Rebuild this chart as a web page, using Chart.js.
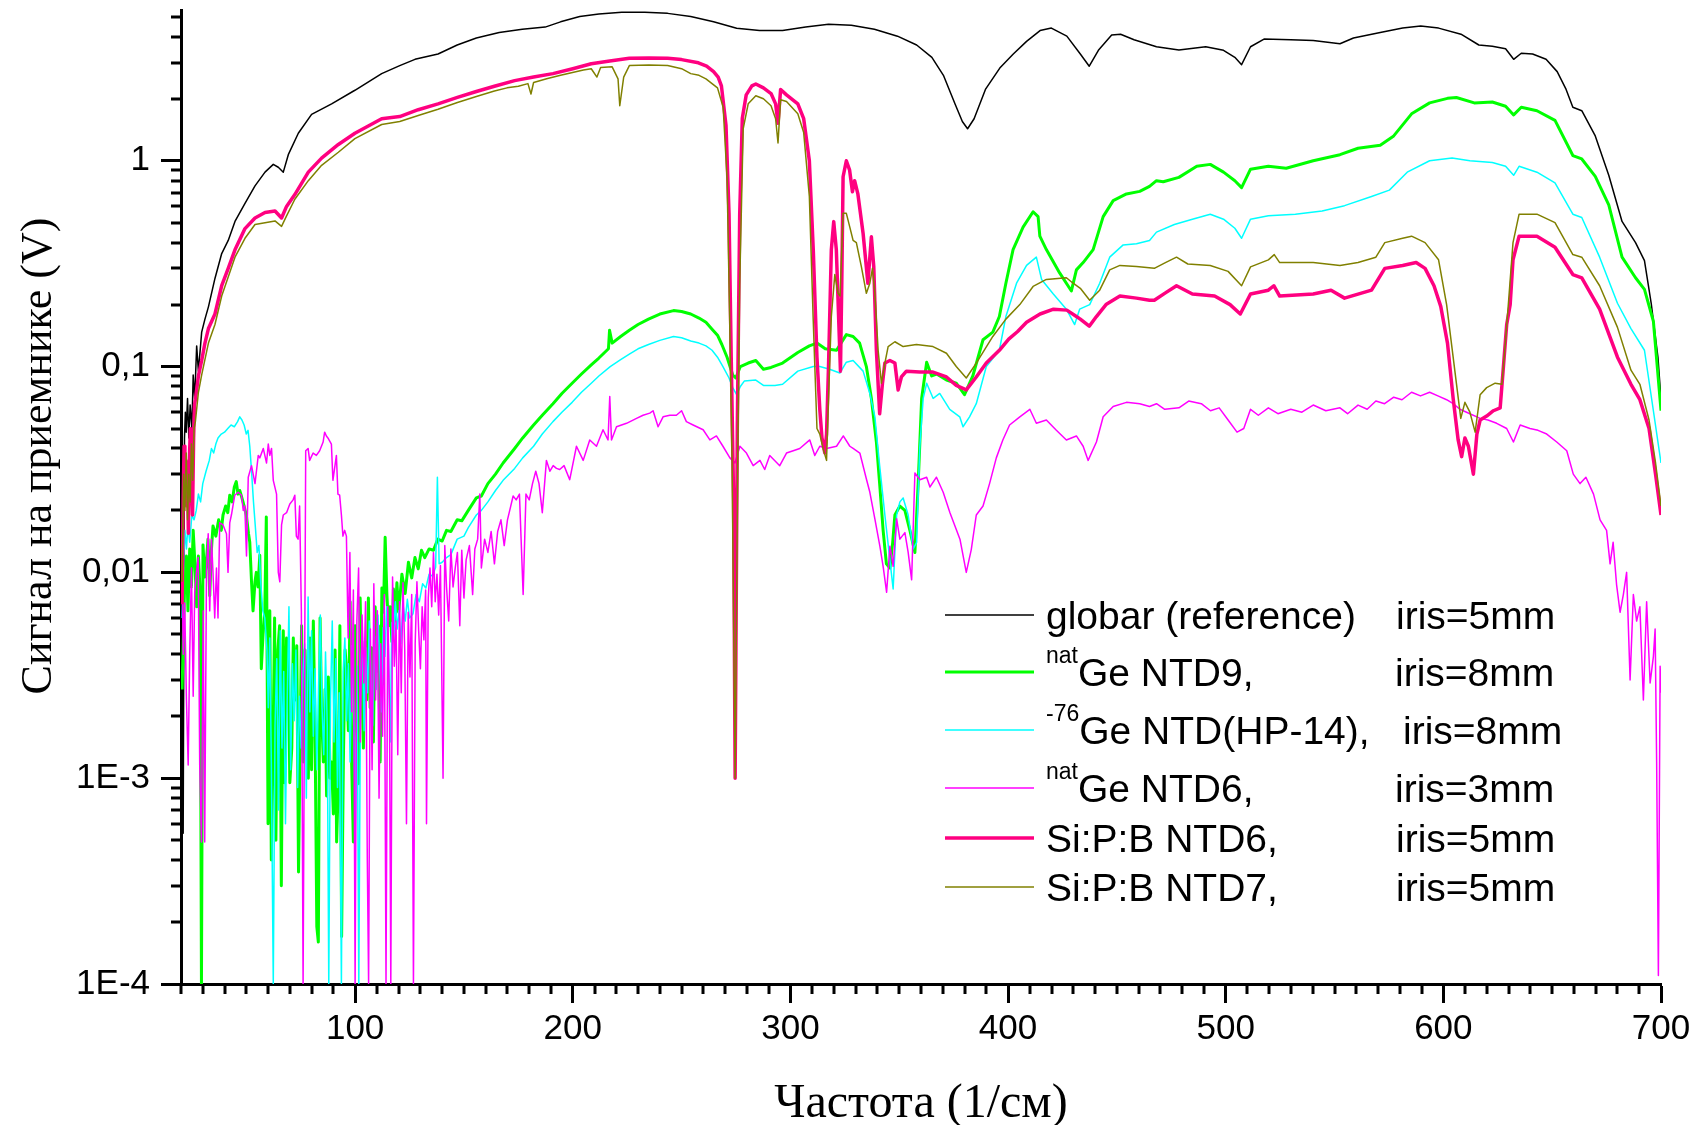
<!DOCTYPE html>
<html>
<head>
<meta charset="utf-8">
<title>Сигнал на приемнике</title>
<script src="https://cdn.jsdelivr.net/npm/chart.js@4.4.1/dist/chart.umd.min.js"></script>
<style>
  html, body { margin: 0; padding: 0; background: #fff; }
  #wrap { width: 1702px; height: 1125px; }
</style>
</head>
<body>
<div id="wrap"><canvas id="signalChart" width="1702" height="1125"></canvas></div>
<script>
// spectra: [frequency 1/cm, signal V]
const globar = [[20.5,0.035],[21,0.00054],[21.6,0.045],[22,0.06],[22.4,0.048],[23,0.07],[23.6,0.045],[24.2,0.065],[25,0.05],[25.6,0.091],[26.3,0.07],[27.2,0.126],[28,0.095],[29.5,0.147],[31,0.17],[32.6,0.195],[35.6,0.268],[38.7,0.354],[41.7,0.41],[44.8,0.507],[49.4,0.62],[54,0.755],[58.6,0.88],[62.4,0.96],[64.7,0.93],[67,0.88],[69.3,1.07],[73.9,1.36],[80,1.68],[89.2,1.89],[99.9,2.2],[112.2,2.65],[120.5,2.9],[127.5,3.11],[138.1,3.3],[146.9,3.65],[155.7,3.95],[166.2,4.2],[176.8,4.35],[187.3,4.46],[194.4,4.73],[203.2,5.02],[212,5.16],[222.5,5.27],[233.1,5.27],[243.6,5.2],[254.2,5.02],[264.7,4.73],[275.3,4.4],[285.8,4.29],[296.4,4.29],[307,4.46],[317.5,4.6],[328,4.55],[338.6,4.35],[349.2,4.03],[358,3.65],[365,3.18],[370.3,2.6],[375.6,1.89],[379,1.55],[381.4,1.43],[384.4,1.6],[389.6,2.22],[396.2,2.82],[402.4,3.3],[408.5,3.8],[414.7,4.29],[419.9,4.41],[427,4.03],[433.2,3.3],[437.3,2.88],[441.5,3.44],[447.6,4.08],[451.7,4.12],[457.9,3.87],[468.2,3.58],[478.5,3.45],[490.8,3.58],[499,3.44],[504.2,3.18],[507.3,2.93],[511.4,3.58],[517.6,3.9],[529.9,3.87],[540.2,3.84],[552.5,3.7],[558.7,3.95],[571,4.2],[581.3,4.41],[589.6,4.51],[597.8,4.41],[608.1,4.12],[616.3,3.65],[622.5,3.6],[628.6,3.5],[632.3,3.11],[635.8,3.33],[641,3.3],[647.2,3.11],[652.3,2.71],[656.4,2.22],[659.5,1.82],[663.6,1.75],[669.8,1.32],[676,0.85],[682.1,0.507],[688.3,0.4],[692.4,0.327],[695.5,0.203],[698.6,0.111],[700,0.069]];

const natGeNtd9 = [[20.5,0.0027],[21.2,0.0055],[21.8,0.0096],[22.5,0.012],[23.2,0.0065],[24,0.013],[24.8,0.0085],[25.6,0.016],[26.4,0.011],[27.2,0.0068],[28,0.012],[28.8,0.008],[29.4,0.0001],[30.1,0.0136],[30.9,0.0095],[31.6,0.011],[32.4,0.0145],[33.2,0.0077],[34,0.013],[34.7,0.0168],[36,0.015],[37.3,0.018],[38.5,0.016],[39.3,0.019],[40.5,0.021],[41.5,0.0195],[42.4,0.0237],[43.5,0.022],[44.5,0.026],[45.4,0.0276],[46.2,0.024],[47,0.025],[48.5,0.022],[50,0.019],[51,0.0155],[51.6,0.014],[52.4,0.009],[53.1,0.0065],[54,0.009],[54.6,0.01],[55.4,0.0085],[56.2,0.0121],[56.9,0.0034],[57.7,0.005],[58.5,0.0065],[59.2,0.0186],[60,0.0006],[60.8,0.0065],[61.5,0.0004],[62.2,0.0012],[63,0.006],[63.6,0.0005],[64.5,0.0042],[65.3,0.0055],[66.1,0.0003],[67,0.0052],[67.6,0.00095],[68.5,0.0048],[69.3,0.0044],[70,0.00095],[70.9,0.0014],[71.6,0.0048],[72.4,0.0024],[73.2,0.0044],[74,0.00035],[74.7,0.0014],[75.4,0.0055],[76.2,0.0012],[77,0.0042],[77.7,0.0018],[78.5,0.001],[79.3,0.0048],[80,0.0011],[80.8,0.0058],[81.6,0.0017],[82.4,0.00019],[83.1,0.00016],[83.9,0.006],[84.6,0.0021],[85.4,0.0012],[86.2,0.0027],[86.9,0.00082],[87.7,0.0031],[88.5,0.001],[89.2,0.0012],[90,0.00067],[90.8,0.0042],[91.5,0.00049],[92.3,0.00095],[93,0.0055],[93.8,0.00017],[94.6,0.0012],[95.4,0.0042],[96.1,0.0033],[96.9,0.0017],[97.7,0.0072],[98.4,0.0012],[99.2,0.00049],[100,0.0055],[100.7,0.0024],[101.5,0.00094],[102.3,0.0075],[103,0.0033],[103.8,0.0014],[104.6,0.0046],[105.3,0.0024],[106.1,0.0075],[106.9,0.0022],[107.6,0.0043],[108.4,0.0015],[109.2,0.0068],[110,0.0033],[110.7,0.0055],[111.5,0.0012],[112.3,0.0084],[113,0.0064],[113.8,0.0148],[114.6,0.0078],[115.3,0.0055],[116.1,0.0068],[116.9,0.0046],[117.6,0.0083],[118.4,0.0058],[119.2,0.0089],[120,0.0064],[121.5,0.0098],[123,0.0079],[124.5,0.0112],[126,0.0094],[127.5,0.0118],[129,0.0104],[130.5,0.0128],[132,0.0118],[134,0.013],[136,0.0128],[138,0.0145],[140,0.0142],[142,0.016],[144,0.0158],[146.9,0.018],[149,0.0178],[152,0.02],[155.7,0.023],[158,0.0235],[161,0.027],[164.5,0.03],[168,0.034],[173.3,0.04],[177,0.045],[182,0.052],[186,0.058],[190.9,0.066],[195,0.074],[199.7,0.083],[204,0.092],[208.5,0.102],[212,0.11],[216.4,0.122],[216.9,0.15],[218.1,0.13],[222,0.14],[226,0.15],[230,0.16],[234.8,0.17],[240,0.18],[246.3,0.187],[250,0.185],[254.2,0.18],[258,0.172],[261.2,0.164],[264,0.152],[266.5,0.142],[268.5,0.128],[270.9,0.111],[273.5,0.091],[274.9,0.088],[277,0.1],[280.6,0.104],[284.1,0.107],[287.6,0.097],[291.1,0.099],[296.4,0.104],[303.4,0.117],[308.7,0.126],[312.2,0.13],[316,0.122],[321.2,0.12],[325.7,0.143],[328.8,0.14],[331.8,0.13],[334.9,0.1],[337.2,0.07],[339.5,0.043],[341,0.027],[342.6,0.016],[344.1,0.011],[345.7,0.0105],[347,0.014],[348,0.019],[350.3,0.021],[352.6,0.02],[354.9,0.016],[357.2,0.0125],[358.7,0.027],[360.3,0.07],[362.6,0.105],[364.9,0.09],[367.2,0.092],[371.7,0.086],[376.2,0.083],[380,0.073],[383.8,0.09],[388.5,0.135],[393,0.147],[396,0.175],[399,0.254],[402.3,0.37],[406.9,0.476],[411.5,0.565],[413.8,0.535],[414.6,0.43],[417.6,0.37],[423.7,0.285],[429.1,0.233],[431.4,0.295],[434.5,0.32],[439.1,0.37],[443.7,0.535],[448.3,0.64],[454.4,0.69],[460.5,0.71],[465,0.75],[468.2,0.8],[471.3,0.79],[478.5,0.83],[486.7,0.94],[492.9,0.96],[499,0.88],[504.2,0.8],[507.3,0.74],[511.4,0.91],[519.6,0.94],[527.8,0.92],[540.2,1.0],[552.5,1.07],[560.8,1.15],[571,1.19],[577.2,1.32],[585.4,1.69],[593.7,1.91],[601.9,2.01],[606,2.03],[614.2,1.91],[622.5,1.93],[628.6,1.84],[632.3,1.67],[635.8,1.82],[643,1.75],[651.3,1.57],[659.5,1.06],[663.6,1.02],[669.8,0.84],[676,0.61],[682.1,0.34],[688.3,0.27],[692.4,0.237],[696.5,0.166],[700,0.061]];

const ge76Hp14 = [[20.5,0.006],[21.2,0.011],[21.8,0.016],[22.5,0.013],[23.2,0.017],[24,0.014],[25,0.019],[26,0.018],[27,0.02],[28,0.024],[29,0.022],[30,0.027],[31.5,0.031],[33,0.035],[34,0.04],[35,0.038],[36,0.042],[37,0.045],[38.5,0.047],[40,0.048],[41.5,0.05],[43,0.052],[44.5,0.051],[46,0.054],[47,0.057],[48,0.055],[49,0.052],[50,0.047],[50.8,0.049],[51.6,0.041],[52.5,0.03],[53.3,0.022],[54.1,0.017],[55,0.0125],[55.8,0.0135],[56.6,0.009],[57.6,0.0065],[58.5,0.006],[59.5,0.0042],[60.1,0.0022],[60.8,0.0048],[61.5,0.0012],[62.4,0.0001],[63.2,0.0018],[64,0.0038],[64.8,0.0007],[65.6,0.0052],[66.4,0.0014],[67.2,0.0033],[68,0.0006],[68.8,0.0024],[69.6,0.0068],[70.4,0.0011],[71.2,0.0036],[72,0.0019],[72.8,0.0042],[73.6,0.0009],[74.4,0.0025],[75.2,0.0014],[76,0.0032],[76.8,0.0045],[77.6,0.0008],[78.4,0.0076],[79.2,0.0021],[80,0.0052],[80.8,0.0016],[81.6,0.0034],[82.4,0.0011],[83.2,0.0028],[84,0.0062],[84.8,0.0022],[85.6,0.0013],[86.4,0.0041],[87.2,0.0018],[87.9,0.0001],[88.7,0.0024],[89.5,0.0058],[90.3,0.0015],[91.1,0.0038],[91.9,0.0009],[92.7,0.0026],[93.7,0.0001],[94.5,0.0033],[95.3,0.0048],[96.1,0.0019],[96.9,0.0036],[97.7,0.0012],[98.5,0.0044],[99.3,0.0023],[100.1,0.0006],[100.9,0.0035],[101.7,0.0001],[102.5,0.0029],[103.3,0.0052],[104.1,0.0017],[104.9,0.0043],[105.7,0.0026],[106.5,0.0058],[107.3,0.0031],[108.1,0.0018],[108.9,0.0049],[109.7,0.0027],[110.5,0.0062],[111.3,0.0035],[112.1,0.0021],[112.9,0.0054],[113.7,0.0039],[114.5,0.0068],[115.3,0.0044],[116.1,0.0015],[116.9,0.0057],[117.7,0.0048],[118.5,0.0072],[119.3,0.0053],[120.1,0.0065],[121,0.0045],[122,0.007],[123,0.0058],[124,0.0074],[125,0.006],[126.6,0.0063],[128,0.0078],[129.5,0.0072],[131,0.0088],[132.5,0.0084],[134,0.0098],[135.5,0.0096],[137,0.0106],[137.8,0.029],[138.6,0.011],[140,0.0112],[142,0.0118],[144,0.0122],[146.9,0.0145],[150,0.015],[152,0.0165],[155.7,0.019],[158,0.02],[161,0.022],[164.5,0.025],[168,0.028],[173.3,0.032],[177,0.036],[182,0.041],[186,0.047],[190.9,0.054],[195,0.06],[199.7,0.067],[204,0.075],[208.5,0.083],[212,0.09],[217.2,0.1],[222,0.108],[226,0.115],[230,0.122],[234.8,0.128],[240,0.134],[246.3,0.14],[250,0.138],[254.2,0.133],[258,0.13],[261.2,0.126],[264,0.12],[266.5,0.111],[269,0.1],[271.8,0.088],[273.5,0.079],[275.3,0.073],[277,0.08],[278.8,0.085],[284.1,0.086],[287.6,0.081],[292.9,0.081],[296.4,0.082],[303.4,0.095],[310.5,0.1],[313.5,0.1],[318,0.097],[322.7,0.093],[325.7,0.105],[328.8,0.107],[333.4,0.095],[336.5,0.074],[338.8,0.057],[341,0.033],[343.4,0.019],[345.7,0.0115],[347.2,0.0083],[348.8,0.019],[350.3,0.022],[351.8,0.023],[354.1,0.019],[356.4,0.013],[358,0.014],[359.4,0.04],[361,0.07],[362.6,0.083],[365.6,0.07],[368.6,0.074],[373.2,0.062],[377.8,0.057],[379.3,0.051],[382.3,0.057],[385.4,0.066],[390,0.1],[396,0.12],[399,0.175],[403.9,0.254],[408.5,0.31],[413,0.34],[415.4,0.265],[420.7,0.226],[426.8,0.19],[430.6,0.16],[432.9,0.19],[437.5,0.2],[442.1,0.254],[446.7,0.34],[452.9,0.39],[459,0.395],[465,0.41],[468.2,0.45],[476.4,0.49],[484.7,0.52],[492.9,0.55],[499,0.52],[504.2,0.47],[507.3,0.42],[511.4,0.52],[519.6,0.54],[532,0.55],[544.3,0.57],[554.6,0.605],[567,0.67],[575.2,0.72],[583.4,0.88],[593.7,1.0],[604,1.03],[612.2,1.0],[622.5,0.98],[628.6,0.94],[632.3,0.85],[634.8,0.94],[643,0.88],[651.3,0.78],[659.5,0.55],[663.6,0.53],[671.8,0.34],[680,0.203],[686.2,0.153],[692.4,0.12],[696.5,0.061],[700,0.034]];

const natGeNtd6 = [[20.5,0.012],[21,0.004],[21.7,0.0071],[22.5,0.0024],[23.3,0.00116],[24,0.004],[24.8,0.0105],[25.6,0.0025],[26.3,0.008],[27,0.0098],[27.9,0.0118],[28.6,0.00116],[29.4,0.00049],[30.2,0.0065],[30.9,0.00049],[31.7,0.01],[32.5,0.0154],[33.2,0.0065],[34,0.0145],[34.7,0.01],[35.5,0.006],[36.3,0.0105],[37,0.006],[37.8,0.0174],[39.3,0.017],[40.9,0.0154],[41.6,0.01],[42.4,0.0174],[43.2,0.0191],[44.7,0.0237],[46.3,0.0245],[47.8,0.0237],[48.6,0.02],[49.3,0.021],[50.1,0.012],[50.9,0.029],[52.4,0.033],[54,0.027],[55.5,0.037],[56.2,0.036],[57.8,0.04],[59.3,0.034],[60.1,0.042],[60.8,0.037],[61.6,0.04],[62.4,0.028],[63.9,0.024],[64.7,0.01],[65.4,0.009],[66.2,0.017],[67,0.019],[68.5,0.0195],[70,0.0215],[71.5,0.0225],[72.3,0.0237],[73,0.015],[73.8,0.0145],[74.5,0.021],[75.3,0.0065],[76.1,0.0001],[77.3,0.039],[78.4,0.04],[79.1,0.035],[80.7,0.038],[82.2,0.037],[83.7,0.039],[85.3,0.043],[86,0.048],[86.8,0.046],[87.5,0.045],[89.1,0.042],[89.8,0.028],[91.4,0.037],[92.1,0.024],[92.9,0.0237],[93.7,0.019],[94.4,0.015],[95.2,0.016],[96,0.015],[96.8,0.0048],[97.6,0.0125],[98.4,0.0021],[99.2,0.0082],[100,0.0001],[100.8,0.0058],[101.6,0.0105],[102.4,0.0015],[103.2,0.0062],[104,0.0029],[104.8,0.0072],[105.6,0.0004],[106.2,0.0001],[107,0.0053],[107.8,0.0011],[108.6,0.0088],[109.4,0.0024],[110.2,0.0065],[111,0.0008],[111.8,0.0045],[112.6,0.0016],[113.4,0.0078],[114.2,0.0001],[115,0.0068],[115.8,0.0022],[116.4,0.0001],[117.2,0.0095],[118,0.0035],[118.8,0.0058],[119.6,0.0013],[120.4,0.0072],[121.2,0.0026],[122,0.0089],[122.8,0.0042],[123.6,0.0006],[124.4,0.0064],[125.2,0.0031],[126,0.0078],[126.8,0.0001],[127.6,0.0045],[128.4,0.009],[129.2,0.0052],[130,0.0034],[130.8,0.0068],[131.6,0.0047],[132.4,0.0082],[132.8,0.0006],[133.6,0.0075],[134.4,0.0105],[135.2,0.0068],[136,0.0125],[136.8,0.0072],[137.6,0.0098],[138.4,0.0062],[139.2,0.0108],[140.4,0.001],[141.2,0.0135],[142,0.0085],[143,0.0058],[144,0.013],[145,0.0085],[146,0.0105],[147,0.0125],[148.1,0.0055],[149,0.0128],[150,0.0075],[151,0.0115],[152.5,0.0135],[154,0.0078],[155,0.013],[156.3,0.0145],[157.3,0.024],[158,0.0105],[159.5,0.0145],[161,0.0125],[162.5,0.0158],[164,0.011],[165.5,0.0158],[167,0.018],[168.5,0.0135],[170,0.018],[171.5,0.021],[172.6,0.0235],[174,0.0225],[175.5,0.024],[177.2,0.0078],[178.5,0.024],[180,0.0225],[181.5,0.027],[183,0.031],[184.5,0.027],[186,0.0195],[187.9,0.035],[189.5,0.031],[191,0.033],[192.5,0.032],[194,0.0316],[196,0.033],[198.6,0.0282],[201.7,0.041],[204.8,0.035],[207.8,0.044],[210.9,0.041],[213.9,0.0493],[216.2,0.044],[217,0.0716],[217.8,0.044],[220.1,0.051],[224.7,0.053],[229.3,0.056],[232.3,0.058],[235.4,0.0594],[236.9,0.061],[239.2,0.051],[241.5,0.057],[244.6,0.058],[247.6,0.058],[250,0.061],[252.2,0.054],[255.3,0.052],[259.9,0.0493],[263,0.044],[266,0.046],[269,0.041],[272.2,0.036],[274.5,0.034],[276.8,0.041],[279.8,0.038],[282.9,0.033],[286,0.035],[288.2,0.0316],[290.5,0.037],[295.1,0.033],[298.2,0.038],[301.3,0.039],[304.3,0.04],[308.9,0.044],[311.2,0.037],[313.5,0.041],[316.6,0.04],[321.2,0.041],[324.3,0.046],[327.3,0.041],[328.8,0.04],[331.9,0.038],[335,0.0282],[336.5,0.0245],[338.8,0.0182],[341.1,0.0134],[342.6,0.0107],[344.2,0.008],[345.7,0.0134],[347.2,0.0107],[348.8,0.0182],[350.3,0.0145],[352.6,0.0156],[354.1,0.0125],[355.7,0.0092],[356.4,0.0162],[357.2,0.0304],[359.5,0.0282],[362.6,0.029],[364.1,0.026],[367.1,0.029],[370.2,0.0245],[373.3,0.0195],[377.9,0.0145],[380.8,0.01],[383.1,0.0129],[385.4,0.019],[388.5,0.021],[391.5,0.027],[394.6,0.036],[397.6,0.044],[400.7,0.052],[405.4,0.057],[410,0.062],[413,0.053],[417.6,0.055],[422.2,0.049],[426.8,0.044],[431.4,0.046],[434.5,0.041],[436.8,0.035],[440.6,0.043],[443.7,0.057],[448.3,0.064],[454.4,0.067],[460.5,0.066],[465,0.064],[468.2,0.066],[472,0.062],[478.5,0.063],[483,0.068],[488.8,0.066],[493,0.061],[497,0.063],[501.1,0.055],[505.2,0.048],[508.3,0.05],[511.4,0.062],[515,0.058],[519.6,0.063],[524,0.059],[529.9,0.062],[535,0.06],[540.2,0.065],[546,0.061],[552.5,0.063],[556,0.059],[560.8,0.065],[565,0.062],[569,0.068],[573,0.066],[577.2,0.071],[581,0.069],[585.4,0.075],[589.5,0.072],[593.7,0.075],[597.5,0.072],[601.5,0.069],[604.5,0.066],[607.6,0.062],[612.2,0.059],[616.9,0.056],[620.5,0.055],[624.5,0.053],[629.1,0.05],[632.2,0.043],[635.3,0.052],[639.8,0.05],[643.5,0.049],[647.5,0.047],[652.1,0.043],[656.7,0.039],[659.7,0.03],[662.8,0.027],[665.5,0.029],[669,0.024],[672,0.018],[675,0.016],[676.6,0.011],[678,0.014],[679.6,0.0087],[681.2,0.0064],[682.7,0.0078],[684.2,0.01],[685.8,0.003],[687.3,0.0078],[688.8,0.0058],[690.3,0.0068],[691.9,0.0024],[693.4,0.0072],[695,0.0029],[696.5,0.0039],[697.3,0.0053],[698,0.0012],[698.8,0.00011],[699.6,0.0035],[700,0.0026]];

const sipbNtd6 = [[20.5,0.007],[21,0.0226],[21.4,0.041],[21.8,0.0245],[22.2,0.035],[22.6,0.021],[23,0.028],[23.4,0.0155],[23.8,0.034],[24.3,0.05],[24.8,0.03],[25.3,0.019],[25.8,0.045],[26.2,0.065],[26.6,0.069],[28,0.09],[29.5,0.107],[31,0.13],[32.6,0.153],[35.6,0.18],[38.7,0.247],[41.7,0.3],[44.8,0.369],[49.4,0.468],[54,0.527],[58.6,0.56],[63.2,0.57],[66.2,0.527],[68.5,0.6],[72.3,0.685],[78.5,0.88],[84.6,1.03],[92.3,1.2],[99.9,1.36],[112.2,1.6],[120.5,1.64],[129,1.77],[138.1,1.89],[147,2.03],[155.7,2.17],[164,2.3],[173.3,2.45],[182,2.55],[190.9,2.65],[200,2.8],[208.5,2.96],[217,3.05],[226,3.15],[235,3.16],[243.6,3.15],[250,3.1],[257.7,2.99],[261.5,2.88],[264.7,2.71],[266.8,2.55],[268.3,2.31],[270.4,1.49],[271.8,0.55],[272.8,0.111],[273.9,0.0226],[274.6,0.001],[275.6,0.05],[276.7,0.55],[277.9,1.61],[279.7,2.09],[282.3,2.31],[284.1,2.36],[287.6,2.26],[291.1,2.12],[293.2,1.89],[294.3,1.52],[295.5,2.22],[298.2,2.09],[303.4,1.89],[306.1,1.6],[308.7,1.0],[310.5,0.37],[312.2,0.111],[313.5,0.062],[314.5,0.045],[315.8,0.038],[316.6,0.047],[317.5,0.1],[318.8,0.369],[319.9,0.506],[321.1,0.369],[322.4,0.145],[323,0.095],[323.6,0.254],[324.2,0.836],[325.7,1.0],[327.2,0.9],[328.5,0.707],[329.5,0.8],[331,0.69],[333.4,0.443],[335.6,0.254],[337.2,0.427],[338.3,0.306],[339.5,0.12],[341,0.059],[342.3,0.083],[343.4,0.104],[345.7,0.107],[348,0.104],[349.5,0.077],[351,0.089],[353.3,0.095],[359.4,0.094],[365.5,0.094],[371.7,0.089],[376.2,0.081],[380.8,0.077],[385.4,0.089],[390,0.104],[396,0.12],[400.3,0.136],[404.4,0.148],[408.5,0.164],[414.7,0.18],[420.9,0.19],[427,0.188],[431.4,0.175],[433.2,0.17],[437.3,0.157],[440.6,0.175],[445,0.2],[451.4,0.22],[459,0.215],[465,0.21],[467.2,0.21],[472.3,0.228],[477.4,0.247],[484.7,0.225],[494.9,0.22],[502,0.2],[506.7,0.18],[511.4,0.225],[519.6,0.235],[522.1,0.247],[524.8,0.22],[540.2,0.225],[548.4,0.235],[554.6,0.215],[560.8,0.225],[567,0.235],[573.1,0.3],[581.3,0.31],[587.5,0.32],[591.6,0.3],[595.7,0.247],[598.8,0.196],[601.9,0.13],[604.5,0.07],[606.8,0.044],[608.4,0.0365],[609.9,0.045],[611.5,0.041],[613.8,0.03],[615.4,0.047],[616.9,0.055],[619.9,0.0575],[623,0.061],[626.1,0.063],[627.6,0.1],[629.1,0.16],[630.7,0.2],[632,0.33],[634.8,0.43],[643,0.43],[651.3,0.38],[659.5,0.28],[663.6,0.27],[671.8,0.19],[680,0.111],[686.2,0.082],[690.3,0.069],[694.5,0.05],[697.5,0.03],[700,0.019]];

const sipbNtd7 = [[20.5,0.009],[21.2,0.03],[21.8,0.02],[22.4,0.038],[23,0.018],[23.6,0.03],[24.2,0.022],[24.8,0.042],[25.4,0.028],[26,0.05],[26.6,0.054],[28,0.075],[29.5,0.091],[32.6,0.13],[35.6,0.16],[38.7,0.22],[44.8,0.34],[49.4,0.42],[54,0.49],[58.6,0.5],[63.2,0.51],[66.2,0.48],[68.5,0.54],[72.3,0.65],[78.5,0.8],[84.6,0.95],[92.3,1.1],[99.9,1.28],[112.2,1.5],[120.5,1.55],[129,1.66],[138.1,1.78],[147,1.92],[155.7,2.05],[164,2.18],[169.8,2.26],[175,2.3],[179.4,2.37],[180.8,2.11],[182,2.4],[188,2.5],[194.4,2.6],[204.9,2.76],[208.5,2.8],[211.1,2.55],[212.8,2.84],[218.1,2.86],[220.8,2.5],[221.6,1.85],[223.4,2.55],[226,2.9],[235,2.92],[243.6,2.9],[250,2.8],[254.2,2.65],[258,2.6],[261.2,2.5],[266.5,2.26],[269.1,1.82],[270.9,0.82],[272.1,0.166],[273.2,0.034],[274.6,0.001],[275.8,0.034],[276.7,0.25],[278.3,1.43],[280.6,1.89],[284.1,2.07],[287.6,2.0],[291.1,1.85],[293.2,1.6],[294.3,1.22],[295.5,1.98],[298.2,1.94],[303.4,1.69],[306.1,1.37],[308.7,0.67],[310.5,0.166],[312.2,0.05],[313.5,0.047],[315,0.04],[316.6,0.035],[317.3,0.06],[318.8,0.175],[320.4,0.28],[321.9,0.227],[322.8,0.22],[324.2,0.555],[325.7,0.555],[327.2,0.48],[328.8,0.41],[330.3,0.4],[332.6,0.306],[334.9,0.227],[336.5,0.254],[337.7,0.3],[338.8,0.227],[340.3,0.12],[341.8,0.083],[343.4,0.104],[344.9,0.125],[348,0.132],[351.8,0.125],[357.9,0.128],[365.5,0.125],[371.7,0.116],[376.2,0.1],[380.8,0.088],[385.4,0.104],[393,0.14],[399,0.17],[405.4,0.2],[411.5,0.245],[417.6,0.265],[426.8,0.27],[429.9,0.254],[433.2,0.24],[437.5,0.21],[442.1,0.235],[446.7,0.295],[451.4,0.31],[459,0.306],[467.2,0.3],[472.3,0.32],[477.4,0.34],[482.6,0.315],[492.9,0.31],[501.1,0.29],[507.3,0.247],[511.4,0.305],[519.6,0.33],[522.3,0.35],[524.8,0.32],[540.2,0.32],[552.5,0.31],[560.8,0.32],[569,0.34],[573.1,0.4],[581.3,0.42],[585.4,0.43],[591.6,0.4],[597.8,0.33],[601.5,0.2],[605.3,0.095],[608,0.056],[609.9,0.067],[612.2,0.06],[614.6,0.048],[616.9,0.073],[619.9,0.079],[623.8,0.083],[626.9,0.082],[628.4,0.127],[630,0.21],[632,0.4],[634.8,0.55],[643,0.55],[651.3,0.5],[659.5,0.35],[663.6,0.34],[671.8,0.247],[680,0.155],[686.2,0.096],[690.3,0.082],[694.5,0.055],[697.5,0.034],[700,0.021]];

// axes
const xMin = 20;
const xMax = 700;
const xMajor = [100, 200, 300, 400, 500, 600, 700];
const xMinor = [];
for (let v = xMin; v <= xMax; v += 10) {
  if (v % 100 !== 0) xMinor.push(v);
}
const yMin = 0.0001;
const yMax = 5.4;
const yMajor = [0.0001, 0.001, 0.01, 0.1, 1];
const yMajorLabels = ['1E-4', '1E-3', '0,01', '0,1', '1'];
const yMinor = [];
yMajor.forEach(d => {
  for (let m = 2; m <= 9; m++) {
    if (m * d <= yMax) yMinor.push(m * d);
  }
});

// legend text
const legendSup = ['', 'nat', '-76', 'nat', '', ''];
const legendNames = ['globar (reference)', 'Ge NTD9,', 'Ge NTD(HP-14),', 'Ge NTD6,', 'Si:P:B NTD6,', 'Si:P:B NTD7,'];
const legendIris = ['iris=5mm', 'iris=8mm', 'iris=8mm', 'iris=3mm', 'iris=5mm', 'iris=5mm'];

const xTitle = 'Частота (1/см)';
const yTitle = 'Сигнал на приемнике (V)';

const sansFont = '"Liberation Sans", Arial, sans-serif';
const serifFont = '"Liberation Serif", "Times New Roman", serif';

function toPoints(pairs) {
  return pairs.map(p => ({ x: p[0], y: p[1] }));
}

// short minor ticks (Chart.js only has one tick length per axis)
const minorTicks = {
  id: 'minorTicks',
  afterDraw(chart) {
    const { ctx, chartArea, scales } = chart;
    ctx.save();
    ctx.strokeStyle = '#000';
    ctx.lineWidth = 3;
    ctx.beginPath();
    xMinor.forEach(v => {
      const px = Math.round(scales.x.getPixelForValue(v));
      ctx.moveTo(px, chartArea.bottom);
      ctx.lineTo(px, chartArea.bottom + 10);
    });
    yMinor.forEach(v => {
      const py = Math.round(scales.y.getPixelForValue(v));
      ctx.moveTo(chartArea.left - 10, py);
      ctx.lineTo(chartArea.left, py);
    });
    ctx.stroke();
    ctx.restore();
  }
};

const axisTitles = {
  id: 'axisTitles',
  afterDraw(chart) {
    const { ctx, chartArea } = chart;
    ctx.save();
    ctx.fillStyle = '#000';
    ctx.font = '48px ' + serifFont;
    ctx.textAlign = 'center';
    ctx.textBaseline = 'alphabetic';
    ctx.fillText(xTitle, (chartArea.left + chartArea.right) / 2, 1117);
    ctx.translate(51, 456);
    ctx.rotate(-Math.PI / 2);
    ctx.font = '44px ' + serifFont;
    ctx.fillText(yTitle, 0, 0);
    ctx.restore();
  }
};

// legend with superscripts, drawn like the Origin one
const originLegend = {
  id: 'originLegend',
  afterDraw(chart) {
    const ctx = chart.ctx;
    const rowY = [615, 672, 730, 788, 838, 887];
    const irisX = [1396, 1395, 1403, 1395, 1396, 1396];
    ctx.save();
    chart.data.datasets.forEach((ds, i) => {
      const y = rowY[i];
      ctx.strokeStyle = ds.borderColor;
      ctx.lineWidth = ds.borderWidth;
      ctx.beginPath();
      ctx.moveTo(945, y);
      ctx.lineTo(1034, y);
      ctx.stroke();

      ctx.fillStyle = '#000';
      ctx.textAlign = 'left';
      ctx.textBaseline = 'alphabetic';
      let x = 1046;
      if (legendSup[i]) {
        ctx.font = '23px ' + sansFont;
        ctx.fillText(legendSup[i], x, y - 9);
        x += ctx.measureText(legendSup[i]).width;
      }
      ctx.font = '39px ' + sansFont;
      ctx.fillText(legendNames[i], x, y + 14);
      ctx.fillText(legendIris[i], irisX[i], y + 14);
    });
    ctx.restore();
  }
};

const ctx = document.getElementById('signalChart').getContext('2d');
const signalChart = new Chart(ctx, {
  type: 'line',
  data: {
    datasets: [
      { label: 'globar (reference) iris=5mm', data: toPoints(globar), borderColor: '#000000', borderWidth: 1.5, order: 5 },
      { label: 'natGe NTD9, iris=8mm', data: toPoints(natGeNtd9), borderColor: '#00ff00', borderWidth: 3, order: 4 },
      { label: '-76Ge NTD(HP-14), iris=8mm', data: toPoints(ge76Hp14), borderColor: '#00ffff', borderWidth: 1.5, order: 3 },
      { label: 'natGe NTD6, iris=3mm', data: toPoints(natGeNtd6), borderColor: '#ff00ff', borderWidth: 1.5, order: 2 },
      { label: 'Si:P:B NTD6, iris=5mm', data: toPoints(sipbNtd6), borderColor: '#ff0080', borderWidth: 3.5, order: 1 },
      { label: 'Si:P:B NTD7, iris=5mm', data: toPoints(sipbNtd7), borderColor: '#808000', borderWidth: 1.5, order: 0 }
    ]
  },
  options: {
    responsive: false,
    animation: false,
    devicePixelRatio: 1,
    parsing: false,
    layout: { padding: { left: 0, top: 10, right: 41, bottom: 0 } },
    elements: {
      point: { radius: 0 },
      line: { tension: 0, fill: false, borderJoinStyle: 'round' }
    },
    plugins: {
      legend: { display: false },
      tooltip: { enabled: false }
    },
    scales: {
      x: {
        type: 'linear',
        position: 'bottom',
        min: xMin,
        max: xMax,
        afterBuildTicks: s => { s.ticks = xMajor.map(v => ({ value: v })); },
        afterFit: s => {
          s.height = 141;
          s.paddingLeft = 0;
          s.paddingRight = 0;
        },
        border: { display: true, color: '#000', width: 3 },
        grid: {
          display: true,
          drawOnChartArea: false,
          drawTicks: true,
          tickLength: 19,
          tickWidth: 3,
          tickColor: '#000'
        },
        ticks: {
          autoSkip: false,
          maxRotation: 0,
          padding: 5,
          color: '#000',
          font: { family: sansFont, size: 35 },
          callback: v => String(v)
        }
      },
      y: {
        type: 'logarithmic',
        position: 'left',
        min: yMin,
        max: yMax,
        afterBuildTicks: s => { s.ticks = yMajor.map(v => ({ value: v })); },
        afterFit: s => {
          s.width = 181;
          s.paddingTop = 0;
          s.paddingBottom = 0;
        },
        border: { display: true, color: '#000', width: 3 },
        grid: {
          display: true,
          drawOnChartArea: false,
          drawTicks: true,
          tickLength: 20,
          tickWidth: 3,
          tickColor: '#000'
        },
        ticks: {
          autoSkip: false,
          padding: 11,
          color: '#000',
          font: { family: sansFont, size: 35 },
          callback: (v, i) => yMajorLabels[i]
        }
      }
    }
  },
  plugins: [minorTicks, axisTitles, originLegend]
});
</script>
</body>
</html>
